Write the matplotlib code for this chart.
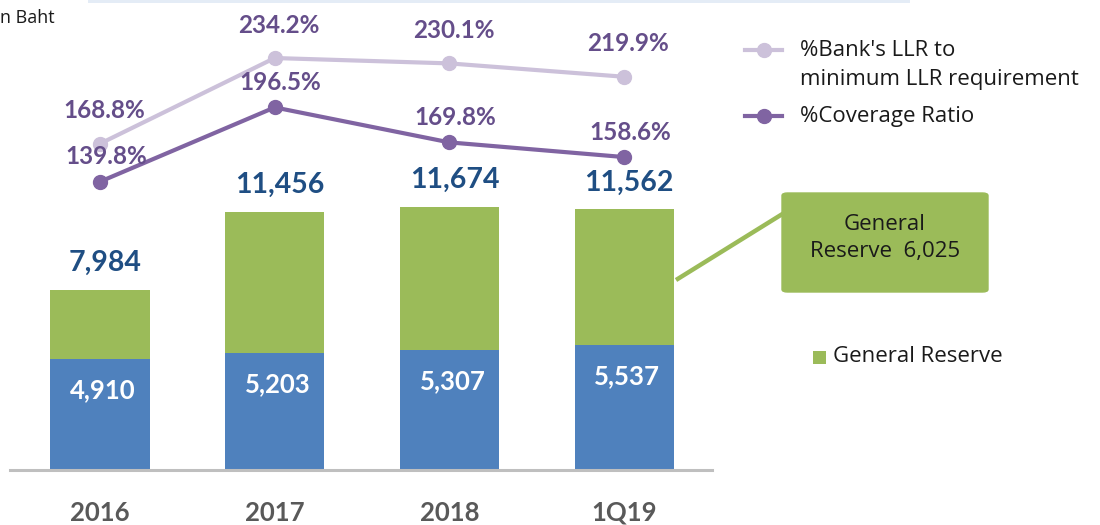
import numpy as np
import matplotlib.pyplot as plt
from matplotlib.lines import Line2D
from matplotlib.patches import FancyBboxPatch, Rectangle

plt.rcParams['font.family'] = ['Lato', 'DejaVu Sans']
SANS = ['Open Sans', 'DejaVu Sans']

# data
periods = ["2016", "2017", "2018", "1Q19"]
total_reserve = [7984, 11456, 11674, 11562]
specific_reserve = [4910, 5203, 5307, 5537]
general_reserve = [t - s for t, s in zip(total_reserve, specific_reserve)]
llr_to_min = [168.8, 234.2, 230.1, 219.9]
coverage_ratio = [139.8, 196.5, 169.8, 158.6]
callout_value = "6,025"

BLUE = '#4F81BD'
GREEN = '#9BBB59'
LLR_C = '#CCC1DA'
COV_C = '#8064A2'
PCT_TXT = '#654E8A'
TOT_TXT = '#1F4E83'
TXT = '#1a1a1a'

W, H = 1100, 525
fig = plt.figure(figsize=(W / 100, H / 100), dpi=100)
ax = fig.add_axes([10 / W, 55 / H, 702 / W, 470 / H])
ax2 = ax.twinx()

x = np.arange(len(periods))
bw = 0.567
ax.bar(x, specific_reserve, bw, color=BLUE, zorder=2)
ax.bar(x, general_reserve, bw, bottom=specific_reserve, color=GREEN, zorder=2)
ax.set_xlim(-0.515, 3.503)
ax.set_ylim(0, 20850)

for xi, tot, sp in zip(x, total_reserve, specific_reserve):
    ax.annotate(f"{tot:,}", (xi, tot), xytext=(5, 27), textcoords='offset pixels',
                ha='center', va='center', fontsize=20.5, fontweight='bold', color=TOT_TXT)
    ax.annotate(f"{sp:,}", (xi, sp), xytext=(3, -31), textcoords='offset pixels',
                ha='center', va='center', fontsize=18.5, fontweight='bold', color='white')

# lines on secondary axis
ax2.plot(x, llr_to_min, color=LLR_C, lw=3, marker='o', ms=10, zorder=3)
ax2.plot(x, coverage_ratio, color=COV_C, lw=3, marker='o', ms=10, zorder=3)
ax2.set_ylim(-80.3, 278.5)
for xi, v in zip(x, llr_to_min):
    ax2.annotate(f"{v:.1f}%", (xi, v), xytext=(4, 33), textcoords='offset pixels',
                 ha='center', va='center', fontsize=17.5, fontweight='bold', color=PCT_TXT)
for xi, v in zip(x, coverage_ratio):
    ax2.annotate(f"{v:.1f}%", (xi, v), xytext=(6, 25), textcoords='offset pixels',
                 ha='center', va='center', fontsize=17.5, fontweight='bold', color=PCT_TXT)

for a in (ax, ax2):
    for s in a.spines.values():
        s.set_visible(False)
    a.set_yticks([])
ax.spines['bottom'].set_visible(True)
ax.spines['bottom'].set_color('#BFBFBF')
ax.spines['bottom'].set_linewidth(2.2)
ax.set_xticks(x)
ax.set_xticklabels(periods, fontsize=18.5, fontweight='bold', color='#595959')
ax.tick_params(axis='x', length=0, pad=22)


def fx(px):
    return px / W


def fy(py):
    return 1 - py / H


# faint band at the top
fig.add_artist(Rectangle((fx(88), fy(3)), fx(910) - fx(88), 3 / H,
                         transform=fig.transFigure, color='#E4ECF6', lw=0))
fig.text(fx(0), fy(18), "n Baht", fontsize=13, family=SANS, color=TXT, va='center', ha='left')

# legend for lines
for py, col in [(50, LLR_C), (116, COV_C)]:
    fig.add_artist(Line2D([fx(745), fx(782)], [fy(py), fy(py)], color=col, lw=3,
                          transform=fig.transFigure))
    fig.add_artist(Line2D([fx(763.5)], [fy(py)], color=col, marker='o', ms=10,
                          transform=fig.transFigure))
fig.text(fx(800), fy(50), "%Bank's LLR to", fontsize=16, family=SANS, va='center', color=TXT)
fig.text(fx(800), fy(80), "minimum LLR requirement", fontsize=16, family=SANS, va='center', color=TXT)
fig.text(fx(800), fy(116), "%Coverage Ratio", fontsize=16, family=SANS, va='center', color=TXT)

# legend for general reserve
fig.add_artist(Rectangle((fx(813), fy(364)), 13 / W, 13 / H, transform=fig.transFigure,
                         color=GREEN, lw=0))
fig.text(fx(833), fy(357), "General Reserve", fontsize=16, family=SANS, va='center', color=TXT)

# callout
fig.add_artist(Line2D([fx(676), fx(784)], [fy(280), fy(213)], color=GREEN, lw=3.2,
                      transform=fig.transFigure, solid_capstyle='butt'))
fig.add_artist(FancyBboxPatch((fx(782), fy(292)), fx(988) - fx(782), fy(193) - fy(292),
                              boxstyle='round,pad=0,rounding_size=0.005',
                              transform=fig.transFigure, facecolor=GREEN,
                              edgecolor=GREEN, lw=1))
fig.text(fx(885), fy(238), "General\nReserve  " + callout_value, fontsize=16, family=SANS,
         ha='center', va='center', color=TXT, linespacing=1.4)

fig.savefig("out.png", dpi=100)
